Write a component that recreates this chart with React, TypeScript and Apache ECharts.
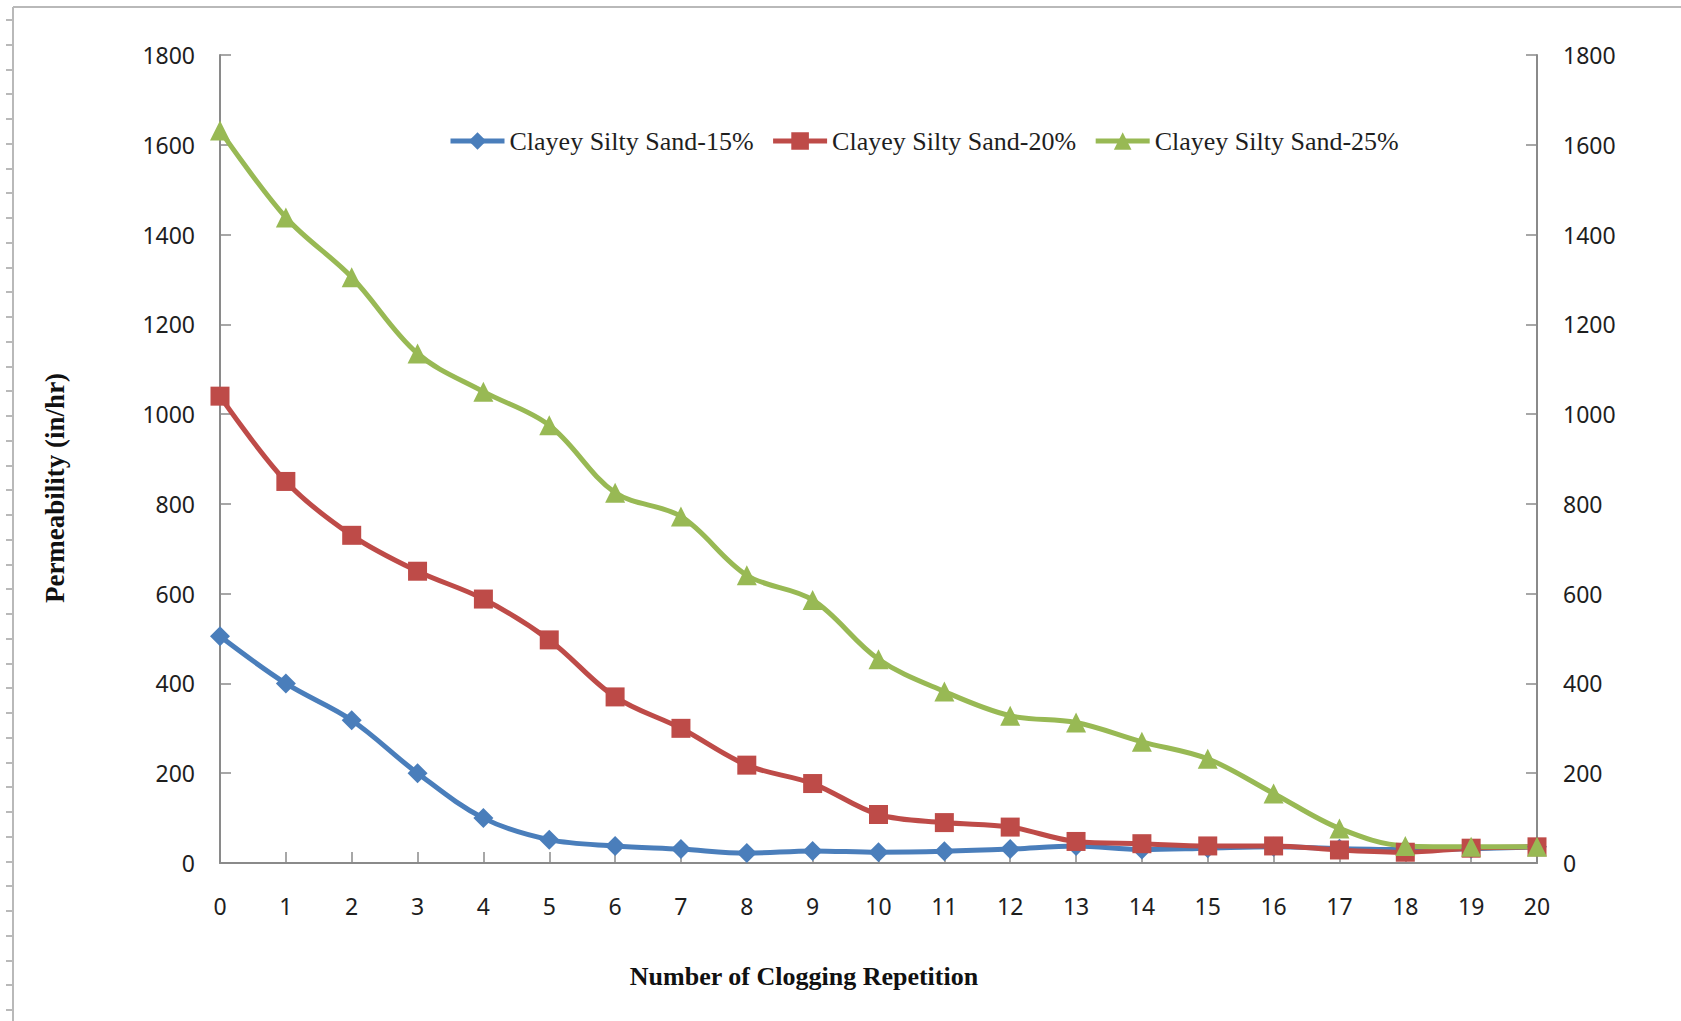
import React, { useEffect, useRef } from "react";
import * as echarts from "echarts";

const repetitions = [0, 1, 2, 3, 4, 5, 6, 7, 8, 9, 10, 11, 12, 13, 14, 15, 16, 17, 18, 19, 20];
const sand15 = [505, 400, 318, 200, 100, 52, 38, 31, 22, 27, 24, 26, 31, 38, 30, 33, 36, 32, 30, 32, 36];
const sand20 = [1040, 850, 730, 650, 588, 497, 370, 300, 218, 177, 108, 90, 80, 48, 43, 38, 38, 29, 24, 33, 36];
const sand25 = [1632, 1438, 1305, 1135, 1050, 975, 825, 772, 641, 586, 454, 382, 328, 313, 270, 232, 155, 77, 38, 36, 36];
const seriesNames = ["Clayey Silty Sand-15%", "Clayey Silty Sand-20%", "Clayey Silty Sand-25%"];

export default function App() {
  const ref = useRef<HTMLDivElement>(null);
  useEffect(() => {
    if (!ref.current) return;
    const chart = echarts.init(ref.current, null, { renderer: "svg" });
    const axisGray = "#8a8a8a";
    const labelColor = "#1e1e1e";
    const frameGray = "#b9b9b9";

    const frame: any[] = [
      { type: "line", shape: { x1: 13, y1: 7, x2: 1681, y2: 7 }, style: { stroke: frameGray, lineWidth: 2 } },
      { type: "line", shape: { x1: 13, y1: 7, x2: 13, y2: 1021 }, style: { stroke: frameGray, lineWidth: 2 } },
    ];
    for (let i = 0; i < 41; i++) {
      const y = Math.round(20 + i * 24.75);
      frame.push({ type: "line", shape: { x1: 6, y1: y, x2: 13, y2: y }, style: { stroke: frameGray, lineWidth: 2 } });
    }

    const mk = (name: string, data: number[], color: string, symbol: string, size: number) => ({
      name,
      type: "line",
      data: repetitions.map((x, i) => [x, data[i]]),
      smooth: 0.35,
      symbol,
      symbolSize: size,
      lineStyle: { color, width: 5 },
      itemStyle: { color },
      yAxisIndex: 0,
    });

    const plain = (v: number) => String(v);

    chart.setOption({
      animation: false,
      backgroundColor: "#ffffff",
      grid: { left: 220, right: 144, top: 55, bottom: 158, containLabel: false },
      legend: {
        left: 443,
        top: 123,
        itemWidth: 54,
        itemHeight: 22,
        itemGap: 17,
        data: seriesNames,
        lineStyle: { width: 5 },
        textStyle: { fontFamily: "Liberation Serif", fontSize: 26, lineHeight: 22, color: labelColor },
      },
      xAxis: {
        type: "value",
        min: 0,
        max: 20,
        interval: 1,
        axisLine: { show: true, lineStyle: { color: axisGray, width: 2 } },
        axisTick: { show: true, inside: true, length: 11, lineStyle: { color: axisGray, width: 1.5 } },
        axisLabel: { margin: 31, fontFamily: "Noto Sans", fontSize: 23, color: labelColor, formatter: plain },
        splitLine: { show: false },
      },
      yAxis: [
        {
          type: "value",
          position: "left",
          min: 0,
          max: 1800,
          interval: 200,
          axisLine: { show: true, lineStyle: { color: axisGray, width: 2 } },
          axisTick: { show: true, inside: true, length: 11, lineStyle: { color: axisGray, width: 1.5 } },
          axisLabel: { margin: 25, fontFamily: "Noto Sans", fontSize: 23, color: labelColor, formatter: plain },
          splitLine: { show: false },
        },
        {
          type: "value",
          position: "right",
          min: 0,
          max: 1800,
          interval: 200,
          axisLine: { show: true, lineStyle: { color: axisGray, width: 2 } },
          axisTick: { show: true, inside: true, length: 11, lineStyle: { color: axisGray, width: 1.5 } },
          axisLabel: { margin: 26, fontFamily: "Noto Sans", fontSize: 23, color: labelColor, formatter: plain },
          splitLine: { show: false },
        },
      ],
      graphic: [
        ...frame,
        {
          type: "text",
          x: 804,
          y: 976,
          style: {
            text: "Number of Clogging Repetition",
            font: "bold 26px 'Liberation Serif'",
            fill: "#111",
            align: "center",
            verticalAlign: "middle",
          },
        },
        {
          type: "text",
          x: 55,
          y: 488,
          rotation: Math.PI / 2,
          style: {
            text: "Permeability (in/hr)",
            font: "bold 27px 'Liberation Serif'",
            fill: "#111",
            align: "center",
            verticalAlign: "middle",
          },
        },
      ],
      series: [
        mk(seriesNames[0], sand15, "#4a7ebb", "diamond", 20),
        mk(seriesNames[1], sand20, "#be4b48", "rect", 19),
        mk(seriesNames[2], sand25, "#98b954", "triangle", 20),
      ],
    });
    return () => chart.dispose();
  }, []);
  return (
    <div
      ref={ref}
      style={{ position: "fixed", left: 0, top: 0, width: 1681, height: 1021, background: "#fff" }}
    />
  );
}
